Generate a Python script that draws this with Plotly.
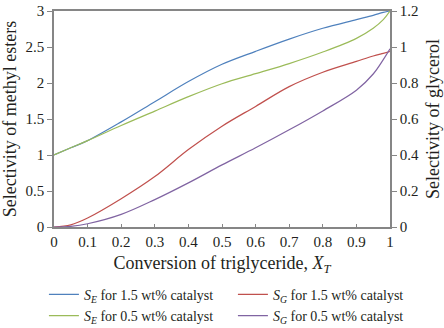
import plotly.graph_objects as go

# Data
conversion = [0, 0.05, 0.1, 0.2, 0.3, 0.4, 0.5, 0.6, 0.7, 0.8, 0.9, 0.95, 0.98, 1.0]
se_15 = [1.0, 1.10, 1.20, 1.46, 1.74, 2.02, 2.26, 2.44, 2.61, 2.76, 2.88, 2.94, 2.98, 3.0]
se_05 = [1.0, 1.10, 1.20, 1.41, 1.61, 1.81, 1.99, 2.13, 2.27, 2.43, 2.62, 2.76, 2.88, 3.0]
sg_15 = [0, 0.012, 0.05, 0.157, 0.28, 0.43, 0.56, 0.67, 0.78, 0.86, 0.92, 0.95, 0.965, 0.975]
sg_05 = [0, 0.004, 0.018, 0.07, 0.152, 0.245, 0.345, 0.44, 0.54, 0.645, 0.76, 0.85, 0.93, 0.99]

x_ticks = [0, 0.1, 0.2, 0.3, 0.4, 0.5, 0.6, 0.7, 0.8, 0.9, 1]
x_ticklabels = ["0", "0.1", "0.2", "0.3", "0.4", "0.5", "0.6", "0.7", "0.8", "0.9", "1"]
y_ticks = [0, 0.5, 1, 1.5, 2, 2.5, 3]
y_ticklabels = ["0", "0.5", "1", "1.5", "2", "2.5", "3"]
y2_ticks = [0, 0.2, 0.4, 0.6, 0.8, 1.0, 1.2]
y2_ticklabels = ["0", "0.2", "0.4", "0.6", "0.8", "1", "1.2"]

names = {
    "se15": "<i>S<sub>E</sub></i> for 1.5 wt% catalyst",
    "se05": "<i>S<sub>E</sub></i> for 0.5 wt% catalyst",
    "sg15": "<i>S<sub>G</sub></i> for 1.5 wt% catalyst",
    "sg05": "<i>S<sub>G</sub></i> for 0.5 wt% catalyst",
}
colors = {"se15": "#4F81BD", "se05": "#9BBB59", "sg15": "#C0504D", "sg05": "#8064A2"}

FONT = "Liberation Serif"
AX = "#868686"

fig = go.Figure()
fig.add_trace(go.Scatter(x=conversion, y=se_15, name=names["se15"], mode="lines",
                         line=dict(color=colors["se15"], width=1.2, shape="spline"), yaxis="y"))
fig.add_trace(go.Scatter(x=conversion, y=sg_15, name=names["sg15"], mode="lines",
                         line=dict(color=colors["sg15"], width=1.2, shape="spline"), yaxis="y2"))
fig.add_trace(go.Scatter(x=conversion, y=se_05, name=names["se05"], mode="lines",
                         line=dict(color=colors["se05"], width=1.2, shape="spline"), yaxis="y"))
fig.add_trace(go.Scatter(x=conversion, y=sg_05, name=names["sg05"], mode="lines",
                         line=dict(color=colors["sg05"], width=1.2, shape="spline"), yaxis="y2"))

fig.update_layout(
    width=444, height=328,
    margin=dict(l=54, r=54, t=11, b=101, pad=0, autoexpand=False),
    paper_bgcolor="white", plot_bgcolor="white",
    font=dict(family=FONT, size=15, color="#231F20"),
    xaxis=dict(range=[0, 1], tickvals=x_ticks, ticktext=x_ticklabels,
               showline=True, linecolor=AX, linewidth=1.5, mirror=True,
               ticks="inside", ticklen=3, tickcolor=AX, showgrid=False, zeroline=False,
               automargin=False,
               title=dict(text="Conversion of triglyceride, <i>X<sub>T</sub></i>", standoff=8)),
    yaxis=dict(range=[0, 3], tickvals=y_ticks, ticktext=y_ticklabels,
               showline=True, linecolor=AX, linewidth=1.5,
               ticks="outside", ticklen=5, tickcolor=AX, showgrid=False, zeroline=False,
               automargin=False,
               title=dict(text="Selectivity of methyl esters", standoff=8)),
    yaxis2=dict(range=[0, 1.2], tickvals=y2_ticks, ticktext=y2_ticklabels,
                overlaying="y", side="right",
                showline=True, linecolor=AX, linewidth=1.5,
                ticks="outside", ticklen=5, tickcolor=AX, showgrid=False, zeroline=False,
                automargin=False,
                title=dict(text="Selectivity of glycerol", standoff=8)),
    legend=dict(orientation="h", x=-0.03, y=-0.24, xanchor="left", yanchor="top",
                entrywidth=144, entrywidthmode="pixels", tracegroupgap=0,
                font=dict(family=FONT, size=14), bgcolor="rgba(0,0,0,0)"),
    showlegend=True,
)

fig.write_html("out.html")
